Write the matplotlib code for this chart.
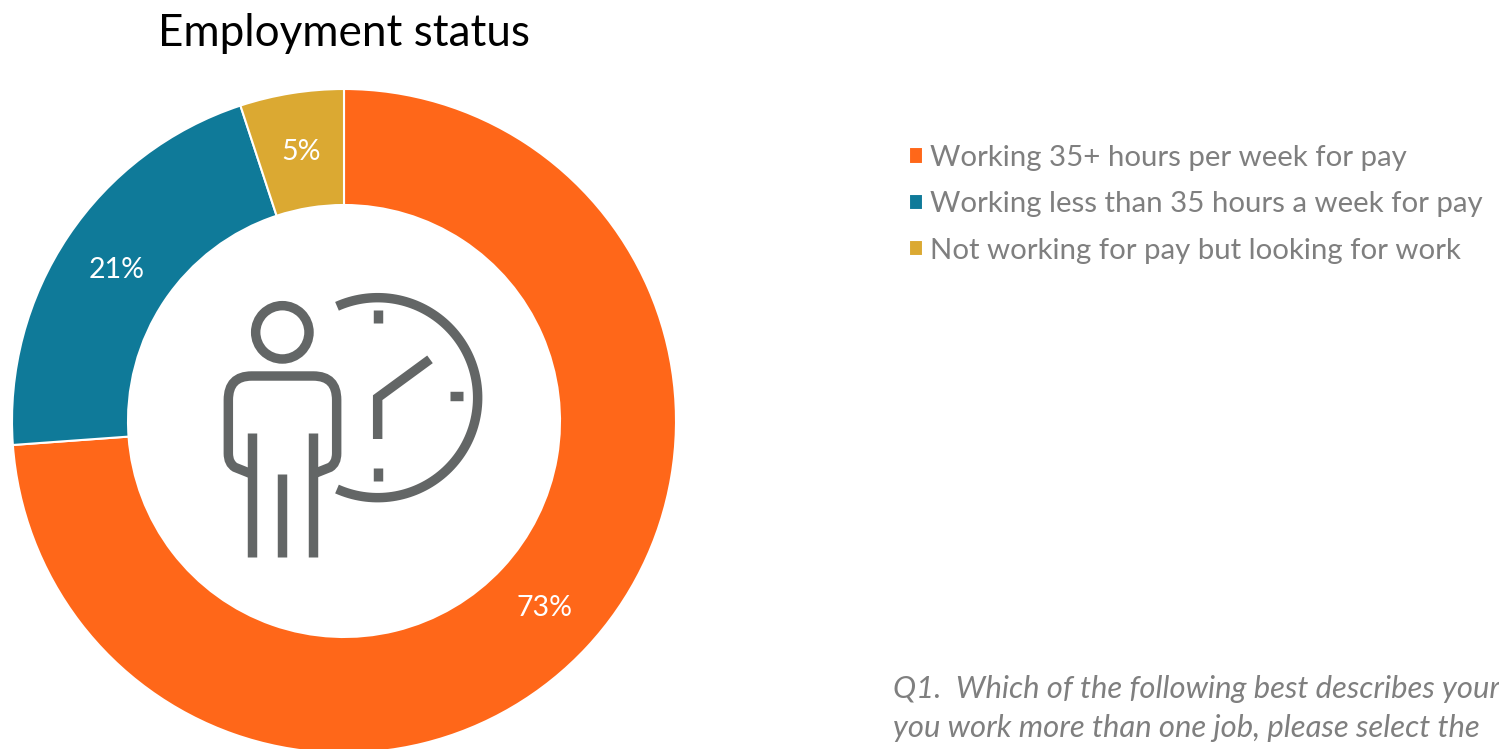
import numpy as np
import matplotlib
matplotlib.use("Agg")
import matplotlib.pyplot as plt
from matplotlib.path import Path
from matplotlib.patches import PathPatch, Circle

plt.rcParams['font.family'] = ['Lato', 'DejaVu Sans']

W, H = 1499, 749

categories = ["Working 35+ hours per week for pay",
              "Working less than 35 hours a week for pay",
              "Not working for pay but looking for work"]
shares = [73.85, 21.1, 5.05]
colors = ["#FF6719", "#0F7A99", "#DBA932"]
title = "Employment status"
note_lines = ["Q1.  Which of the following best describes your",
              "you work more than one job, please select the"]

GREY = "#7F7F7F"
ICON = "#636666"
ICON_LW = 6.8


def px(x, y):
    # picture pixels (y down) to axes data
    return x, H - y


def icon_pt(x, y):
    # icon was measured in a crop at 3x, offset (200, 270)
    return px(200 + x / 3, 270 + y / 3)


def icon_line(ax, pts):
    xy = [icon_pt(*p) for p in pts]
    ax.plot([p[0] for p in xy], [p[1] for p in xy], color=ICON, lw=ICON_LW,
            solid_capstyle="butt", solid_joinstyle="miter")


def draw_icon(ax):
    # head
    ax.add_patch(Circle(icon_pt(247, 187), 80 / 3, fill=False, ec=ICON, lw=ICON_LW))

    # shoulders and arms
    verts = [(155, 612), (105, 592), (85, 580), (85, 550), (85, 390), (85, 318), (155, 318),
             (340, 318), (410, 318), (410, 390), (410, 550), (410, 580), (390, 592), (340, 612)]
    codes = [Path.MOVETO, Path.LINETO, Path.CURVE3, Path.CURVE3, Path.LINETO, Path.CURVE3, Path.CURVE3,
             Path.LINETO, Path.CURVE3, Path.CURVE3, Path.LINETO, Path.CURVE3, Path.CURVE3, Path.LINETO]
    ax.add_patch(PathPatch(Path([icon_pt(*v) for v in verts], codes), fill=False, ec=ICON,
                           lw=ICON_LW, capstyle="butt"))

    # legs
    icon_line(ax, [(155, 490), (155, 860)])
    icon_line(ax, [(247, 613), (247, 860)])
    icon_line(ax, [(340, 490), (340, 860)])

    # clock
    t = np.radians(np.linspace(-114, 114, 120))
    icon_line(ax, list(zip(533 + 300 * np.cos(t), 383 + 300 * np.sin(t))))
    icon_line(ax, [(533, 120), (533, 160)])
    icon_line(ax, [(533, 593), (533, 633)])
    icon_line(ax, [(750, 377), (790, 377)])
    icon_line(ax, [(533, 507), (533, 383), (690, 268)])


fig = plt.figure(figsize=(W / 100, H / 100), dpi=100)
ax = fig.add_axes([0, 0, 1, 1])

wedges, _, pcts = ax.pie(shares, colors=colors, center=px(344, 421), radius=332,
                         startangle=90, counterclock=False, autopct="%d%%", pctdistance=0.823,
                         wedgeprops=dict(width=116, edgecolor="white", linewidth=1.5))
for p in pcts:
    p.set_color("white")
    p.set_fontsize(20.5)
    p.set_verticalalignment("center_baseline")
    x, y = p.get_position()
    p.set_position((x, y + 1.5))

ax.set_xlim(0, W)
ax.set_ylim(0, H)
ax.set_aspect("equal")
ax.axis("off")

draw_icon(ax)

ax.text(*px(344, 46), title, ha="center", va="baseline", fontsize=31.7, color="black")

leg = ax.legend(wedges, categories, loc="upper left", bbox_to_anchor=px(909, 145),
                bbox_transform=ax.transData, frameon=False, fontsize=21.2, labelcolor=GREY,
                handlelength=0.47, handleheight=0.47, handletextpad=0.24, labelspacing=0.69,
                borderpad=0, borderaxespad=0)

ax.text(*px(893, 698), note_lines[0], fontsize=22.3, style="italic", color=GREY, va="baseline")
ax.text(*px(893, 737), note_lines[1], fontsize=22.3, style="italic", color=GREY, va="baseline")

fig.savefig("out.png", dpi=100)
